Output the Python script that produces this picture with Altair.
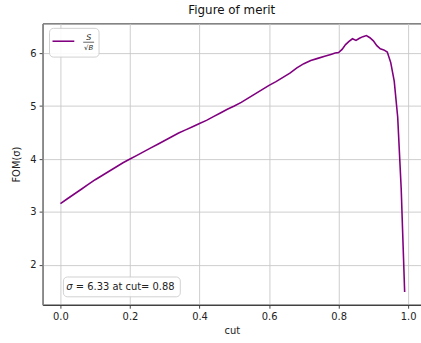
import altair as alt
import pandas as pd

cuts = [0.00, 0.02, 0.04, 0.06, 0.08, 0.10, 0.12, 0.14, 0.16, 0.18,
        0.20, 0.22, 0.24, 0.26, 0.28, 0.30, 0.32, 0.34, 0.36, 0.38,
        0.40, 0.42, 0.44, 0.46, 0.48, 0.50, 0.52, 0.54, 0.56, 0.58,
        0.60, 0.62, 0.64, 0.66, 0.68, 0.70, 0.72, 0.74, 0.76, 0.78,
        0.79, 0.80, 0.81, 0.82, 0.83, 0.84, 0.85, 0.86, 0.87, 0.88,
        0.89, 0.90, 0.91, 0.92, 0.93, 0.94, 0.95, 0.96, 0.97, 0.98, 0.99]
fom = [3.16, 3.25, 3.34, 3.43, 3.52, 3.61, 3.69, 3.77, 3.85, 3.93,
       4.00, 4.07, 4.14, 4.21, 4.28, 4.35, 4.42, 4.49, 4.55, 4.61,
       4.67, 4.73, 4.80, 4.87, 4.94, 5.00, 5.07, 5.15, 5.23, 5.31,
       5.39, 5.46, 5.54, 5.62, 5.72, 5.80, 5.86, 5.90, 5.94, 5.98,
       6.00, 6.01, 6.07, 6.16, 6.22, 6.27, 6.24, 6.28, 6.31, 6.33,
       6.29, 6.23, 6.14, 6.08, 6.06, 6.02, 5.82, 5.47, 4.79, 3.45, 1.49]

x_ticks = [0.0, 0.2, 0.4, 0.6, 0.8, 1.0]
y_ticks = [2, 3, 4, 5, 6]

df = pd.DataFrame({"cut": cuts, "fom": fom})
imax = max(range(len(fom)), key=lambda i: fom[i])
ann = pd.DataFrame({"t": [f"= {fom[imax]:.2f} at cut= {cuts[imax]:.2f}"]})
one = pd.DataFrame({"a": [0]})

FONT = "DejaVu Sans"
PURPLE = "#800080"

xs = alt.Scale(domain=[-0.0513, 1.037], nice=False, zero=False)
ys = alt.Scale(domain=[1.25, 6.56], nice=False, zero=False)

line = alt.Chart(df).mark_line(color=PURPLE, strokeWidth=1.6, clip=True).encode(
    x=alt.X("cut:Q", scale=xs, title="cut",
            axis=alt.Axis(values=x_ticks, format=".1f", domainColor="#333333", domainWidth=1.2)),
    y=alt.Y("fom:Q", scale=ys, title="FOM(\u03c3)",
            axis=alt.Axis(values=y_ticks, format="d", domainColor="#888888", domainWidth=1.5)),
)

ann_box = alt.Chart(one).mark_rect(
    fill="white", stroke="#cccccc", strokeWidth=1, cornerRadius=4, opacity=0.9
).encode(x=alt.value(21), x2=alt.value(139), y=alt.value(256), y2=alt.value(276))

ann_sigma = alt.Chart(one).mark_text(
    font=FONT, fontSize=10, fontStyle="italic", align="left", baseline="middle", color="#222222"
).encode(x=alt.value(24), y=alt.value(266.5), text=alt.value("\u03c3"))

ann_text = alt.Chart(ann).mark_text(
    font=FONT, fontSize=10, align="left", baseline="middle", color="#222222"
).encode(x=alt.value(33.5), y=alt.value(266.5), text="t:N")

leg_box = alt.Chart(one).mark_rect(
    fill="white", stroke="#cccccc", strokeWidth=1, cornerRadius=4, opacity=0.9
).encode(x=alt.value(7), x2=alt.value(57), y=alt.value(5), y2=alt.value(34))

leg_line = alt.Chart(one).mark_rule(color=PURPLE, strokeWidth=1.6).encode(
    x=alt.value(10), x2=alt.value(32), y=alt.value(18))

leg_bar = alt.Chart(one).mark_rule(color="#222222", strokeWidth=0.7).encode(
    x=alt.value(41), x2=alt.value(52), y=alt.value(19))

leg_s = alt.Chart(one).mark_text(
    font=FONT, fontSize=8, fontStyle="italic", align="center", baseline="alphabetic", color="#222222"
).encode(x=alt.value(46.5), y=alt.value(17), text=alt.value("S"))

leg_b = alt.Chart(one).mark_text(
    font=FONT, fontSize=7, fontStyle="italic", align="center", baseline="top", color="#222222"
).encode(x=alt.value(46.5), y=alt.value(20.5), text=alt.value("\u221aB"))

chart = alt.layer(line, ann_box, ann_sigma, ann_text, leg_box, leg_line, leg_bar, leg_s, leg_b).properties(
    width=382, height=284,
    title=alt.TitleParams("Figure of merit", font=FONT, fontSize=12, fontWeight="normal",
                          color="#111111", offset=6, anchor="middle"),
    autosize=alt.AutoSizeParams(type="none"),
    padding={"left": 43, "top": 22, "right": 0, "bottom": 37},
).configure_view(
    stroke="#333333", strokeWidth=1
).configure_axis(
    grid=True, gridColor="#c8c8c8", gridWidth=0.9,
    tickColor="#333333", tickSize=3.5, tickWidth=0.9,
    labelFont=FONT, labelFontSize=10, labelColor="#222222", labelPadding=3,
    titleFont=FONT, titleFontSize=10, titleFontWeight="normal", titleColor="#222222",
).configure_axisX(titlePadding=5).configure_axisY(titlePadding=8)

chart.save("out.html", embed_options={"renderer": "svg", "actions": False})
